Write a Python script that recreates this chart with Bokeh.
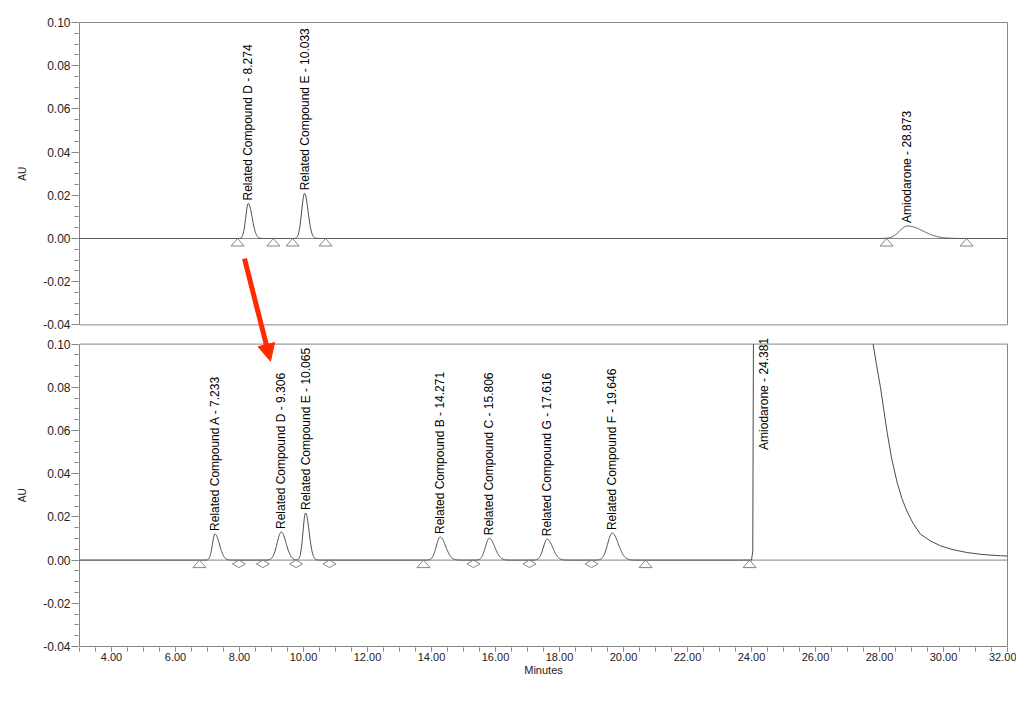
import numpy as np
from bokeh.plotting import figure
from bokeh.layouts import row
from bokeh.models import (Range1d, FixedTicker, CustomJSTickFormatter, PrintfTickFormatter,
                          Arrow, NormalHead, ColumnDataSource)
from bokeh.embed import file_html
from bokeh.resources import INLINE
from bokeh.core.properties import value

# ---------------- data ----------------
# Top chromatogram (standard)
top_names = ["Related Compound D", "Related Compound E", "Amiodarone"]
top_rt = [8.274, 10.033, 28.873]
top_height = [0.0162, 0.0209, 0.0058]
top_sigma_left = [0.08, 0.09, 0.24]
top_sigma_right = [0.12, 0.11, 0.48]
top_triangles = [7.94, 9.06, 9.66, 10.69, 28.22, 30.72]

# Bottom chromatogram (sample)
bot_names = ["Related Compound A", "Related Compound D", "Related Compound E",
             "Related Compound B", "Related Compound C", "Related Compound G",
             "Related Compound F"]
bot_rt = [7.233, 9.306, 10.065, 14.271, 15.806, 17.616, 19.646]
bot_height = [0.0121, 0.0130, 0.0218, 0.0107, 0.0101, 0.0097, 0.0125]
bot_sigma_left = [0.08, 0.13, 0.08, 0.12, 0.12, 0.12, 0.14]
bot_sigma_right = [0.14, 0.15, 0.11, 0.17, 0.17, 0.17, 0.19]
bot_triangles = [6.75, 13.75, 20.69, 23.94]
bot_diamonds = [7.98, 8.73, 9.77, 10.81, 15.31, 17.06, 19.00]

# Main amiodarone peak in the sample (off scale): rising edge and tail
amio_name = "Amiodarone"
amio_rt = 24.381
amio_label_au = 0.0496
amio_rise_t = [24.00, 24.04, 24.06]
amio_rise_au = [0.000, 0.004, 0.100]
amio_tail_t = [27.80, 27.90, 28.03, 28.12, 28.24, 28.38, 28.55, 28.70, 28.87,
               29.05, 29.28, 29.60, 29.91, 30.30, 30.74, 31.20, 31.78, 32.00]
amio_tail_au = [0.100, 0.091, 0.080, 0.071, 0.059, 0.047, 0.0360, 0.0285, 0.0222,
                0.017, 0.0120, 0.0088, 0.0066, 0.0048, 0.0035, 0.0026, 0.0020, 0.0019]

x_major = [4, 6, 8, 10, 12, 14, 16, 18, 20, 22, 24, 26, 28, 30, 32]
y_major = [-0.04, -0.02, 0.00, 0.02, 0.04, 0.06, 0.08, 0.10]
y_title = "AU"
y_title_au = 0.03

# ---------------- geometry ----------------
PXU = 2160.0            # pixels per AU
GAP = 19.2 / PXU        # gap between panels (AU)
OFF = 0.14 + GAP        # vertical offset of the top panel
PADY = 1.0 / PXU
PADX = 1.0 / 32.0
XMIN, XMAX = 3.0, 32.0
YLO, YHI = -0.04, 0.10
SIDE_W = 30

TRACE = "#4a4a4a"
GRAY = "#858585"
RED = "#ff2a00"
FONT = "Liberation Sans"


def trace(t, rts, hs, sl, sr):
    y = np.zeros_like(t)
    for rt, h, a, b in zip(rts, hs, sl, sr):
        s = np.where(t < rt, a, b)
        y += h * np.exp(-0.5 * ((t - rt) / s) ** 2)
    return y


yr = Range1d(YLO - PADY, YHI + OFF + PADY)

p = figure(width=1016 - SIDE_W, height=705, output_backend="svg", toolbar_location=None,
           x_range=Range1d(XMIN - PADX, XMAX + PADX), y_range=yr,
           min_border_left=78 - SIDE_W, min_border_right=8, min_border_top=21,
           min_border_bottom=58)
p.outline_line_color = None
p.grid.visible = False
p.background_fill_color = "white"
p.border_fill_color = "white"

# ---- axes ----
xa = p.xaxis[0]
xa.ticker = FixedTicker(ticks=x_major, minor_ticks=list(np.arange(3.0, 32.01, 0.5)))
xa.formatter = PrintfTickFormatter(format="%.2f")
xa.axis_line_color = None
xa.major_tick_line_color = GRAY
xa.minor_tick_line_color = GRAY
xa.major_tick_in = 0
xa.minor_tick_in = 0
xa.major_tick_out = 4
xa.minor_tick_out = 4
xa.major_label_standoff = 1
xa.major_label_text_font = FONT
xa.major_label_text_font_size = "11px"
xa.major_label_text_color = "#222222"
xa.axis_label = "Minutes"
xa.axis_label_text_font = FONT
xa.axis_label_text_font_size = "11px"
xa.axis_label_text_font_style = "normal"
xa.axis_label_text_color = "#222222"
xa.axis_label_standoff = 0

ya = p.yaxis[0]
majors = [round(v, 6) for v in y_major] + [round(v + OFF, 6) for v in y_major]
minor_vals = np.arange(-0.04, 0.1001, 0.005)
minors = [round(v, 6) for v in minor_vals] + [round(v + OFF, 6) for v in minor_vals]
ya.ticker = FixedTicker(ticks=majors, minor_ticks=minors)
ya.formatter = CustomJSTickFormatter(code="""
    let v = tick > %f ? tick - %f : tick;
    v = Math.round(v * 100) / 100;
    if (Math.abs(v) < 1e-9) { v = 0; }
    return v.toFixed(2);
""" % (0.104, OFF))
ya.axis_line_color = None
ya.major_tick_line_color = GRAY
ya.minor_tick_line_color = GRAY
ya.major_tick_in = 0
ya.minor_tick_in = 0
ya.major_tick_out = 7
ya.minor_tick_out = 4
ya.major_label_standoff = 1
ya.major_label_text_font = FONT
ya.major_label_text_font_size = "12px"
ya.major_label_text_color = "#222222"

# ---- panel frames and baselines ----
for off in (0.0, OFF):
    p.quad(left=XMIN, right=XMAX, bottom=YLO + off, top=YHI + off,
           fill_color=None, line_color=GRAY, line_width=1)
    p.segment(x0=XMIN, y0=off, x1=XMAX, y1=off, line_color=GRAY, line_width=1)

# ---- top trace ----
t = np.round(np.arange(XMIN, XMAX + 0.001, 0.01), 4)
y_top = trace(t, top_rt, top_height, top_sigma_left, top_sigma_right)
p.line(t, y_top + OFF, line_color=TRACE, line_width=1)

# ---- bottom trace ----
tb = t[t <= amio_rise_t[0]]
y_b = trace(tb, bot_rt, bot_height, bot_sigma_left, bot_sigma_right)
xs_b = list(tb) + amio_rise_t[1:] + [np.nan] + amio_tail_t
ys_b = list(y_b) + amio_rise_au[1:] + [np.nan] + amio_tail_au
p.line(xs_b, ys_b, line_color=TRACE, line_width=1)

# ---- integration markers ----
dx = 6.5 / 32.0
dy = 7.5 / PXU


def tri_patches(xs, base):
    return ([[x, x - dx, x + dx] for x in xs],
            [[base, base - dy, base - dy] for _ in xs])


def dia_patches(xs, base):
    return ([[x, x + dx, x, x - dx] for x in xs],
            [[base, base - dy / 2, base - dy, base - dy / 2] for _ in xs])


for xs, ys in (tri_patches(top_triangles, OFF), tri_patches(bot_triangles, 0.0),
               dia_patches(bot_diamonds, 0.0)):
    p.patches(xs, ys, fill_color="white", fill_alpha=0.0, line_color=GRAY, line_width=1)

# ---- peak labels ----
lab_x = top_rt + bot_rt + [amio_rt]
lab_y = [h + OFF for h in top_height] + bot_height + [amio_label_au]
lab_t = ([f"{n} - {r:.3f}" for n, r in zip(top_names, top_rt)] +
         [f"{n} - {r:.3f}" for n, r in zip(bot_names, bot_rt)] +
         [f"{amio_name} - {amio_rt:.3f}"])
src = ColumnDataSource(dict(x=lab_x, y=lab_y, text=lab_t))
p.text(x="x", y="y", text="text", source=src, angle=np.pi / 2,
       text_align="left", text_baseline="middle", y_offset=-3,
       text_font=value(FONT), text_font_size="12px", text_color="black")

# ---- red arrow ----
p.add_layout(Arrow(x_start=8.156, y_start=-0.0093 + OFF, x_end=8.969, y_end=0.0921,
                   line_color=RED, line_width=5,
                   end=NormalHead(size=17, fill_color=RED, line_color=RED, line_width=1)))

# ---- side strip with the two "AU" axis titles ----
side = figure(width=SIDE_W, height=705, output_backend="svg", toolbar_location=None,
              x_range=Range1d(0, SIDE_W), y_range=yr, x_axis_type=None, y_axis_type=None,
              min_border_left=0, min_border_right=0, min_border_top=21,
              min_border_bottom=58)
side.outline_line_color = None
side.grid.visible = False
side.border_fill_color = "white"
side.background_fill_color = "white"
side.text(x=[22, 22], y=[y_title_au + OFF, y_title_au], text=[y_title, y_title],
          angle=np.pi / 2, text_align="center", text_baseline="middle",
          text_font=value(FONT), text_font_size="10px", text_color="#222222")

layout = row(side, p, spacing=0)
open("out.html", "w").write(file_html(layout, INLINE))
